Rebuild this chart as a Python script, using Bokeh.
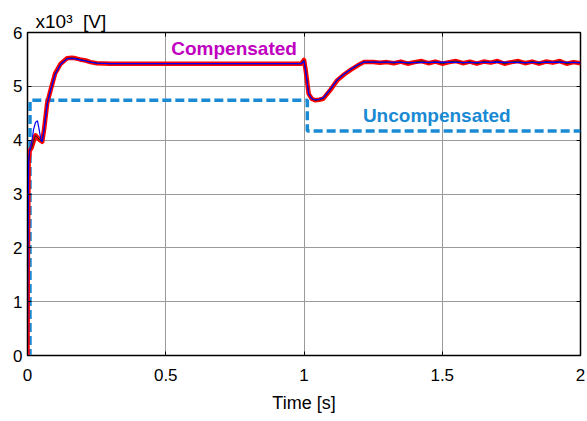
from bokeh.plotting import figure
from bokeh.models import FixedTicker, LinearAxis, Label
from bokeh.embed import file_html
from bokeh.resources import INLINE

# ---- data ----
t_comp = [0.0, 0.001, 0.004, 0.008, 0.015, 0.022, 0.029, 0.036, 0.045, 0.053, 0.06, 0.071,
          0.083, 0.1, 0.12, 0.143, 0.16, 0.174, 0.19, 0.21, 0.228, 0.25, 0.3, 0.4, 0.5, 0.6,
          0.7, 0.8, 0.9, 0.99, 1.0, 1.006, 1.017, 1.028, 1.04, 1.055, 1.07, 1.095, 1.12,
          1.145, 1.17, 1.195, 1.216, 1.25, 1.275, 1.3, 1.325, 1.35, 1.375, 1.4, 1.425, 1.45,
          1.475, 1.5, 1.525, 1.55, 1.575, 1.6, 1.625, 1.65, 1.675, 1.7, 1.725, 1.75, 1.775,
          1.8, 1.825, 1.85, 1.875, 1.9, 1.925, 1.95, 1.975, 2.0]
v_comp = [0.0, 1.5, 3.6, 3.8, 3.86, 3.98, 4.09, 4.05, 4.0, 3.97, 4.2, 4.68,
          4.92, 5.24, 5.42, 5.52, 5.53, 5.52, 5.5, 5.48, 5.45, 5.43, 5.42, 5.42, 5.42, 5.42,
          5.42, 5.42, 5.42, 5.42, 5.49, 5.3, 4.86, 4.77, 4.74, 4.75, 4.77, 4.93, 5.11,
          5.22, 5.31, 5.39, 5.45, 5.45, 5.44, 5.45, 5.43, 5.46, 5.42, 5.45, 5.47, 5.43,
          5.46, 5.42, 5.45, 5.47, 5.43, 5.46, 5.42, 5.46, 5.44, 5.47, 5.42, 5.45, 5.47,
          5.43, 5.46, 5.42, 5.46, 5.44, 5.47, 5.42, 5.45, 5.43]

t_blue = [0.0, 0.001, 0.004, 0.008, 0.015, 0.022, 0.029, 0.036, 0.042, 0.048, 0.053, 0.06,
          0.071, 0.083, 0.1, 0.12, 0.143, 0.16, 0.174, 0.19, 0.21, 0.228, 0.25, 0.3, 0.5,
          0.7, 0.99, 1.0, 1.006, 1.017, 1.028, 1.04, 1.055, 1.07, 1.095, 1.12, 1.145, 1.17,
          1.195, 1.216, 1.3, 1.4, 1.5, 1.6, 1.7, 1.8, 1.9, 2.0]
v_blue = [0.0, 1.5, 3.6, 3.8, 3.95, 4.2, 4.33, 4.36, 4.2, 4.02, 3.97, 4.2,
          4.66, 4.92, 5.22, 5.41, 5.51, 5.52, 5.51, 5.49, 5.47, 5.45, 5.43, 5.42, 5.42,
          5.42, 5.42, 5.47, 5.28, 4.86, 4.77, 4.75, 4.76, 4.79, 4.95, 5.12, 5.23, 5.32,
          5.4, 5.45, 5.45, 5.44, 5.45, 5.44, 5.45, 5.44, 5.45, 5.44]

t_unc = [0.0, 0.009, 0.009, 1.012, 1.012, 2.0]
v_unc = [0.0, 0.0, 4.74, 4.74, 4.17, 4.17]

x_ticks = [0, 0.5, 1, 1.5, 2]
x_tick_labels = ["0", "0.5", "1", "1.5", "2"]
y_ticks = [0, 1, 2, 3, 4, 5, 6]

FONT = "Liberation Sans"

p = figure(width=587, height=421, output_backend="svg", toolbar_location=None,
           x_range=(0, 2), y_range=(0, 6),
           min_border_left=27, min_border_top=32, min_border_bottom=66, min_border_right=7)
p.background_fill_color = "white"
p.border_fill_color = "white"
p.outline_line_color = "black"
p.outline_line_width = 1.5

p.title.text = "x10\u00b3\u00a0 [V]"
p.title.text_font = FONT
p.title.text_font_size = "19px"
p.title.text_font_style = "normal"
p.title.text_color = "black"
p.title.align = "left"
p.title.offset = 8
p.title.standoff = 2

p.grid.grid_line_color = "#9a9a9a"
p.grid.grid_line_width = 1
p.xgrid.ticker = FixedTicker(ticks=x_ticks)
p.ygrid.ticker = FixedTicker(ticks=y_ticks)

p.xaxis.ticker = FixedTicker(ticks=x_ticks)
p.xaxis.major_label_overrides = {k: v for k, v in zip(x_ticks, x_tick_labels)}
p.yaxis.ticker = FixedTicker(ticks=y_ticks)
for ax in (p.xaxis, p.yaxis):
    ax.major_tick_in = 4
    ax.major_tick_out = 0
    ax.minor_tick_line_color = None
    ax.axis_line_color = "black"
    ax.major_tick_line_color = "black"
    ax.major_label_text_font = FONT
    ax.major_label_text_font_size = "17px"
    ax.major_label_text_color = "black"
p.xaxis.major_label_standoff = 13
p.yaxis.major_label_standoff = 5
p.xaxis.axis_label = "Time [s]"
p.xaxis.axis_label_text_font = FONT
p.xaxis.axis_label_text_font_size = "18px"
p.xaxis.axis_label_text_font_style = "normal"
p.xaxis.axis_label_text_color = "black"
p.xaxis.axis_label_standoff = 9

# box ticks on right/top (no labels)
rax = LinearAxis(ticker=FixedTicker(ticks=y_ticks), major_tick_in=4, major_tick_out=0,
                 minor_tick_line_color=None, axis_line_color=None,
                 major_label_overrides={k: "" for k in y_ticks}, major_label_standoff=0)
p.add_layout(rax, "right")
tax = LinearAxis(ticker=FixedTicker(ticks=x_ticks), major_tick_in=4, major_tick_out=0,
                 minor_tick_line_color=None, axis_line_color=None,
                 major_label_overrides={k: "" for k in x_ticks}, major_label_standoff=0)
p.add_layout(tax, "above")

# curves
p.line(t_unc, v_unc, line_color="#1a8ad4", line_width=3.5, line_dash="9 4")
p.line(t_comp, v_comp, line_color="#ff0000", line_width=4.5, line_join="round")
p.line(t_comp, v_comp, line_color="#222222", line_width=1)
p.line(t_blue, v_blue, line_color="#0000ff", line_width=1.2)

# annotations
p.add_layout(Label(x=0.52, y=5.71, text="Compensated", text_font=FONT,
                   text_font_size="19px", text_font_style="bold", text_color="#c000c0",
                   text_baseline="alphabetic"))
p.add_layout(Label(x=1.213, y=4.45, text="Uncompensated", text_font=FONT,
                   text_font_size="19px", text_font_style="bold", text_color="#1a8ad4",
                   text_baseline="alphabetic"))

open("out.html", "w").write(file_html(p, INLINE))
